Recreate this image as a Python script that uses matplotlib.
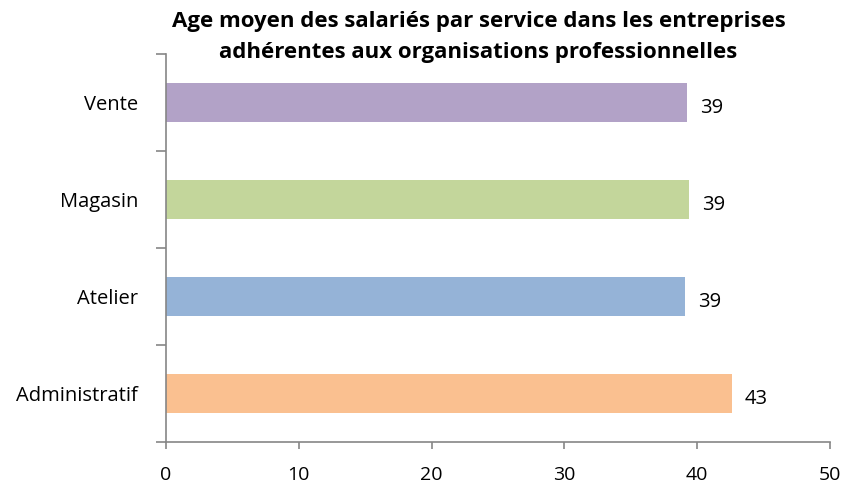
import matplotlib
matplotlib.use("Agg")
import matplotlib.pyplot as plt

categories = ["Administratif", "Atelier", "Magasin", "Vente"]
values = [42.6, 39.1, 39.4, 39.2]
colors = ["#FAC090", "#95B3D7", "#C3D69B", "#B2A2C7"]
title = "Age moyen des salariés par service dans les entreprises\nadhérentes aux organisations professionnelles"
xticks = [0, 10, 20, 30, 40, 50]

plt.rcParams['font.family'] = ['Open Sans', 'DejaVu Sans']

fig = plt.figure(figsize=(8.44, 4.83), dpi=100)
ax = fig.add_axes([0.1967, 0.0849, 0.7867, 0.8033])

y = list(range(len(categories)))
ax.barh(y, values, height=0.41, color=colors)
for yi, v in zip(y, values):
    ax.text(v + 1.0, yi - 0.06, f"{v:.0f}", va="center", ha="left", fontsize=14.5, color="#000000")

ax.set_xlim(0, 50)
ax.set_ylim(-0.5, len(categories) - 0.5)
ax.set_xticks(xticks)
ax.set_xticklabels([str(t) for t in xticks], fontsize=14)
ax.set_yticks(y)
ax.set_yticklabels(categories, fontsize=14.5)
ax.set_yticks([i - 0.5 for i in range(len(categories) + 1)], minor=True)
ax.tick_params(axis="y", which="major", length=0, pad=20)
ax.tick_params(axis="y", which="minor", length=7, color="#868686", width=1.2)
ax.tick_params(axis="x", which="major", length=5, color="#868686", width=1.2, pad=12)

for s in ["top", "right"]:
    ax.spines[s].set_visible(False)
for s in ["left", "bottom"]:
    ax.spines[s].set_color("#868686")
    ax.spines[s].set_linewidth(1.2)

fig.suptitle(title, fontsize=16, fontweight="bold", x=0.567, y=0.978, va="top", linespacing=1.65)

fig.savefig("out.png", dpi=100)
